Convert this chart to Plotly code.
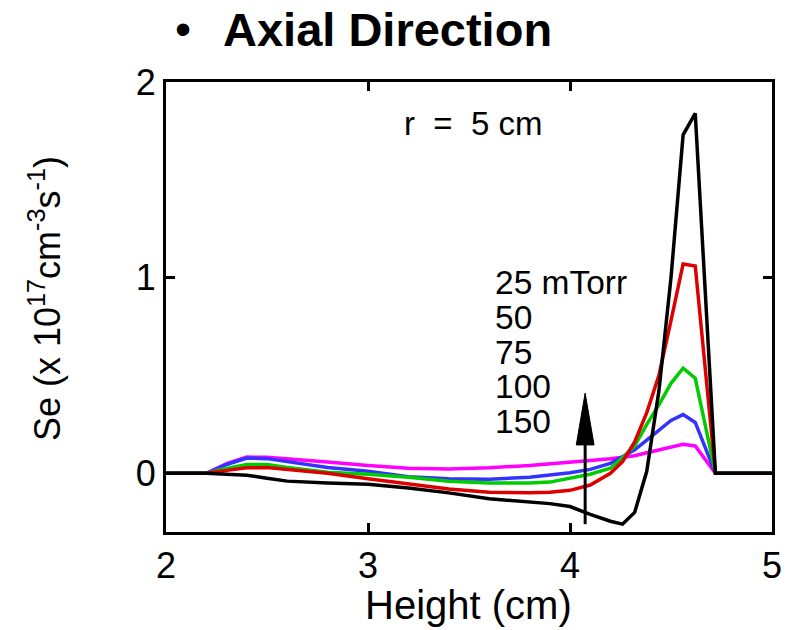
import plotly.graph_objects as go

# ---------------- data ----------------
height_cm = [2.0, 2.2, 2.3, 2.4, 2.5, 2.6, 2.8, 3.0, 3.2, 3.4, 3.6, 3.8, 3.9, 4.0,
             4.1, 4.2, 4.26, 4.32, 4.38, 4.44, 4.50, 4.56, 4.62, 4.72, 5.0]

se_25 = [0.0, 0.0, -0.005, -0.01, -0.025, -0.04, -0.05, -0.056, -0.075, -0.10, -0.13,
         -0.145, -0.155, -0.17, -0.21, -0.245, -0.26, -0.20, 0.01, 0.42, 1.00, 1.73,
         1.84, 0.0, 0.0]
se_50 = [0.0, 0.0, 0.015, 0.028, 0.03, 0.02, 0.0, -0.028, -0.055, -0.08, -0.097,
         -0.10, -0.097, -0.087, -0.06, 0.0, 0.06, 0.16, 0.31, 0.50, 0.78, 1.07,
         1.06, 0.0, 0.0]
se_75 = [0.0, 0.0, 0.025, 0.045, 0.045, 0.03, 0.005, -0.005, -0.02, -0.04, -0.05,
         -0.05, -0.045, -0.025, -0.005, 0.026, 0.08, 0.14, 0.25, 0.35, 0.46, 0.537,
         0.486, 0.0, 0.0]
se_100 = [0.0, 0.0, 0.045, 0.078, 0.075, 0.06, 0.03, 0.01, -0.017, -0.028, -0.03,
          -0.02, -0.01, 0.003, 0.02, 0.051, 0.085, 0.12, 0.17, 0.22, 0.27, 0.30,
          0.26, 0.0, 0.0]
se_150 = [0.0, 0.0, 0.05, 0.083, 0.082, 0.075, 0.058, 0.04, 0.026, 0.022, 0.028,
          0.04, 0.047, 0.056, 0.065, 0.074, 0.08, 0.09, 0.105, 0.12, 0.135, 0.148,
          0.14, 0.0, 0.0]

pressure_labels = ["25 mTorr", "50", "75", "100", "150"]
x_ticks = [2, 3, 4, 5]
y_ticks = [0, 1, 2]

# arrow (increasing pressure)
arrow_x = 4.075
arrow_y0 = -0.26
arrow_base = 0.145
arrow_tip = 0.41

# ---------------- styling ----------------
FONT = "Liberation Sans, Arial, Helvetica, sans-serif"
series = [
    (se_150, "#ff00ff"),
    (se_100, "#3333ff"),
    (se_75, "#00cc00"),
    (se_50, "#dd0000"),
    (se_25, "#000000"),
]

fig = go.Figure()
for ys, col in series:
    fig.add_trace(go.Scatter(x=height_cm, y=ys, mode="lines",
                             line=dict(color=col, width=3.5), showlegend=False,
                             hoverinfo="skip"))

# arrow shaft
fig.add_trace(go.Scatter(x=[arrow_x, arrow_x], y=[arrow_y0, arrow_base],
                         mode="lines", line=dict(color="black", width=3),
                         showlegend=False, hoverinfo="skip"))
# arrow head
hw = 0.044
fig.add_shape(type="path",
              path=f"M {arrow_x-hw},{arrow_base} L {arrow_x},{arrow_tip} L {arrow_x+hw},{arrow_base} Z",
              fillcolor="black", line=dict(color="black", width=1), xref="x", yref="y")

W, H = 791, 630
L, T = 166, 82
R = W - 782
B = H - 532
pw, ph = W - L - R, H - T - B


def px(xp):
    return (xp - L) / pw


def py(yp):
    return (H - B - yp) / ph


annotations = []
# title
annotations.append(dict(text="•", x=px(183), y=py(29), xref="paper", yref="paper",
                        xanchor="center", yanchor="middle", showarrow=False,
                        font=dict(family=FONT, size=46, color="black")))
annotations.append(dict(text="<b>Axial Direction</b>", x=px(222), y=py(29),
                        xref="paper", yref="paper", xanchor="left", yanchor="middle",
                        showarrow=False, font=dict(family=FONT, size=47, color="black")))
# r = 5 cm
annotations.append(dict(text="r\u00a0\u00a0=\u00a0\u00a05\u00a0cm", x=3.166, y=1.79,
                        xref="x", yref="y", xanchor="left", yanchor="middle",
                        showarrow=False, font=dict(family=FONT, size=33, color="black")))
# pressure labels
for i, lab in enumerate(pressure_labels):
    annotations.append(dict(text=lab, x=3.62, y=0.973 - i * 0.177, xref="x", yref="y",
                            xanchor="left", yanchor="middle", showarrow=False,
                            font=dict(family=FONT, size=33.5, color="black")))
# axis titles
annotations.append(dict(text="Height (cm)", x=px(473), y=py(605), xref="paper",
                        yref="paper", xanchor="center", yanchor="middle",
                        showarrow=False, font=dict(family=FONT, size=40, color="black")))
annotations.append(dict(text="Se (x 10<sup>17</sup>cm<sup>-3</sup>s<sup>-1</sup>)",
                        x=px(43), y=py(298), xref="paper", yref="paper",
                        xanchor="center", yanchor="middle", textangle=-90,
                        showarrow=False, font=dict(family=FONT, size=36, color="black")))

axis_common = dict(showline=True, linecolor="black", linewidth=3, mirror="ticks",
                   ticks="inside", ticklen=9, tickwidth=3, tickcolor="black",
                   showgrid=False, zeroline=False,
                   tickfont=dict(family=FONT, size=36, color="black"))

fig.update_layout(
    width=W, height=H,
    margin=dict(l=L, r=R, t=T, b=B, pad=0),
    paper_bgcolor="white", plot_bgcolor="white",
    xaxis=dict(range=[2, 5], tickvals=x_ticks, ticktext=[str(v) for v in x_ticks],
               **axis_common),
    yaxis=dict(range=[-0.3, 2], tickvals=y_ticks, ticktext=[str(v) for v in y_ticks],
               **axis_common),
    annotations=annotations,
    showlegend=False,
)

fig.write_html("out.html",
               config={"displayModeBar": False},
               post_script="document.body.style.margin='0px';"
                           "document.body.style.overflow='hidden';")
